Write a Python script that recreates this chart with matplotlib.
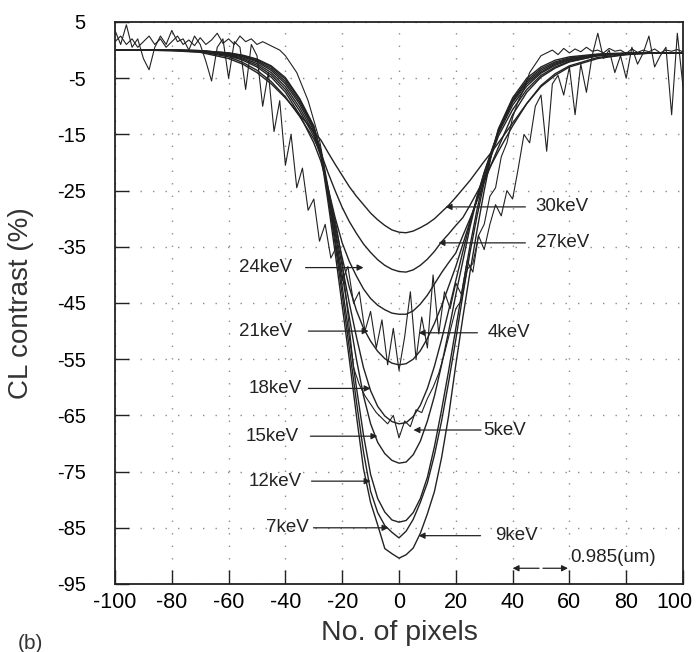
import matplotlib
matplotlib.use("Agg")
import matplotlib.pyplot as plt
from matplotlib.transforms import ScaledTranslation

plt.rcParams['font.family'] = ['Liberation Sans', 'DejaVu Sans']
plt.rcParams['axes.unicode_minus'] = False

# posiciones (pixeles) donde se leyeron las curvas suaves
x_smooth = [-100, -90, -80, -70, -60, -55, -50, -45, -40, -35, -30,
            -27.5, -25, -22.5, -20, -17.5, -15, -12.5, -10, -7.5, -5, -2.5,
            0, 2.5, 5, 7.5, 10, 12.5, 15, 17.5, 20, 22.5, 25, 27.5, 30, 32.5,
            35, 40, 45, 50, 55, 60, 70, 80, 90, 100]

cl_30kev = [0, 0, -0.1, -0.4, -1.5, -2.5, -4, -6, -8.5, -11.5, -14.5,
            -16, -18.2, -20.3, -22.3, -24.3, -26, -27.5, -29, -30.2, -31.2, -32,
            -32.4, -32.5, -32.2, -31.6, -30.9, -30, -28.8, -27.6, -26.2, -24.7, -23.2, -21.5, -19.8, -18.2,
            -16.5, -13, -9.5, -6.5, -4.5, -3, -1.5, -0.8, -0.5, -0.5]
cl_27kev = [0, 0, -0.1, -0.3, -1.2, -2.2, -3.6, -5.6, -8.3, -11.8, -15.8,
            -18.3, -21.8, -25, -28, -30.5, -32.6, -34.5, -36, -37.3, -38.3, -39,
            -39.4, -39.5, -39.1, -38.3, -37.2, -35.8, -34.1, -32.7, -31.2, -29.8, -27.6, -25.3, -22.9, -20.4,
            -18, -13.5, -9.5, -6.3, -4.2, -2.8, -1.3, -0.8, -0.5, -0.5]
cl_24kev = [0, 0, 0, -0.2, -1, -1.8, -3, -4.8, -7.5, -11.5, -16.5,
            -19.8, -24.5, -29.8, -34.3, -37.6, -40.2, -42.5, -44.2, -45.4, -46.2, -46.8,
            -47, -47, -46.4, -45.2, -43.6, -41.6, -39.6, -37.8, -36.1, -33, -30, -26.8, -23.5, -20.3,
            -17.3, -11.5, -7.5, -4.8, -3.2, -2.1, -1, -0.6, -0.5, -0.5]
cl_21kev = [0, 0, 0, -0.2, -0.9, -1.6, -2.7, -4.4, -7, -10.8, -15.3,
            -19, -25, -31, -37, -42.2, -46.3, -49.5, -51.8, -53.6, -54.9, -55.7,
            -56, -55.8, -55, -53.5, -51.3, -48.6, -45.5, -42, -38.5, -34.5, -30.5, -26.5, -22.5, -18.8,
            -15.3, -10.6, -7, -4.5, -3, -2, -1, -0.6, -0.5, -0.5]
cl_18kev = [0, 0, 0, -0.2, -0.8, -1.4, -2.4, -4, -6.5, -10.2, -14.8,
            -18.5, -25, -31.8, -38.5, -45, -51, -56.5, -60.6, -63.4, -65.1, -66.1,
            -66.5, -66.3, -65.2, -63.2, -60.2, -56.2, -51.5, -46.3, -41, -35.8, -30.8, -26, -21.8, -18.2,
            -14.8, -9.8, -6.4, -4.1, -2.7, -1.8, -0.9, -0.6, -0.5, -0.5]
cl_15kev = [0, 0, 0, -0.1, -0.7, -1.2, -2.1, -3.6, -6, -9.6, -14.3,
            -18, -25, -32.5, -40, -47.5, -55, -61.5, -66.5, -69.8, -71.8, -73,
            -73.5, -73.3, -72, -69.6, -66, -61.5, -56, -50, -43.5, -37.5, -31.5, -26.3, -21.8, -18,
            -14.5, -9.3, -6, -3.9, -2.5, -1.7, -0.9, -0.6, -0.5, -0.5]
cl_12kev = [0, 0, 0, -0.1, -0.6, -1.1, -1.9, -3.3, -5.6, -9.2, -13.9,
            -18, -25.5, -33.5, -42, -51, -60, -68.5, -75.5, -79.8, -82.2, -83.6,
            -84, -83.7, -82.3, -79.8, -76, -70.5, -64, -57, -49.5, -42, -34.8, -28.3, -22.8, -18.3,
            -14.5, -9, -5.7, -3.6, -2.3, -1.5, -0.8, -0.6, -0.5, -0.5]
cl_7kev = [0, 0, 0, -0.1, -0.5, -1, -1.7, -3, -5.2, -8.8, -13.6,
           -18, -26, -34.5, -43.5, -53, -62.5, -71.5, -78.5, -82.3, -84.6, -85.8,
           -86.8, -85.6, -83.5, -80.5, -77, -72, -66, -59, -51.5, -43.5, -36, -29.5, -23.5, -18.5,
           -14.2, -8.8, -5.4, -3.3, -2.1, -1.4, -0.8, -0.6, -0.5, -0.5]
cl_9kev = [0, 0, 0, -0.1, -0.5, -0.9, -1.6, -2.8, -4.9, -8.6, -13.5,
           -18.5, -27, -36, -45.5, -55, -65, -74.5, -80.5, -84.5, -88.7, -89.6,
           -90.4, -89.8, -88.6, -86, -82.5, -78.5, -72.5, -65, -56, -47.5, -39.5, -32, -25, -18.7,
           -14, -8.5, -5, -3, -1.8, -1.2, -0.7, -0.5, -0.5, -0.5]

# curvas con ruido (4keV y 5keV), leidas cada 2 pixeles
x_noisy = list(range(-100, 101, 2))
cl_4kev = [3.5, 1.0, 4.5, 0.5, 2.0, -1.5, -3.5, 0.5, 2.5, 1.0,
           3.5, 1.5, 2.0, 0.0, 2.5, 1.0, -2.0, -5.5, 0.5, 2.0,
           -5.0, 1.5, 0.5, -7.0, 1.0, -1.0, -10.0, -4.0, -14.5, -9.0,
           -20.5, -15.0, -24.5, -21.0, -28.5, -26.5, -34.0, -31.0, -37.0, -35.0,
           -41.0, -38.5, -45.0, -43.0, -50.0, -46.5, -53.0, -48.0, -56.0, -49.5,
           -57.0, -51.0, -43.0, -55.0, -47.5, -53.0, -40.0, -50.5, -43.0, -46.0,
           -41.5, -43.5, -37.5, -39.5, -33.0, -35.5, -31.0, -27.5, -29.5, -25.0,
           -26.5, -21.0, -15.0, -16.5, -10.0, -8.0, -18.0, -6.0, -4.5, -8.0,
           -3.0, -11.5, -2.5, -7.5, -1.0, 3.0, -1.5, 0.0, -4.0, -1.0,
           -5.0, 0.5, -2.5, -0.5, 2.5, -3.0, -1.0, 0.5, -11.5, 3.0,
           -6.5]
cl_5kev = [1.5, 2.5, 1.0, 2.0, 0.5, 1.5, 2.5, 1.0, 2.0, 0.5,
           1.5, 2.5, 1.0, 1.8, 0.8, 2.2, 1.0, 1.8, 3.0, 1.2,
           2.0, 1.0, 2.5, 1.5, 2.0, 1.0, 1.5, 1.0, 0.5, 0.0,
           -1.0, -2.5, -4.0, -6.5, -9.0, -12.5, -16.0, -21.5, -27.0, -31.5,
           -37.5, -47.0, -56.5, -59.5, -61.5, -63.0, -64.5, -65.5, -66.5, -65.0,
           -69.0, -66.0, -67.0, -64.0, -64.5, -62.0, -60.0, -57.5, -54.0, -50.0,
           -46.0, -44.5, -39.0, -38.0, -33.0, -31.0, -26.0, -24.5, -19.0, -16.5,
           -12.0, -9.0, -7.0, -4.0, -2.5, -1.0, -0.5, 0.0, -0.8, 0.3,
           -0.5, 0.2, -0.3, 0.5, -0.2, 0.0, -0.5, 0.3, -0.2, 0.0,
           -0.6, 0.2, -0.4, 0.0, -0.3, 0.2, -0.5, 0.0, -0.2, 0.1,
           -0.3]

x_ticks = [-100, -80, -60, -40, -20, 0, 20, 40, 60, 80, 100]
y_ticks = [5, -5, -15, -25, -35, -45, -55, -65, -75, -85, -95]

# etiquetas: (texto, x texto, y, inicio de la flecha, punta de la flecha)
etiquetas = [
    ('30keV', 48.1, -27.9, 44.5, 16.4),
    ('27keV', 48.1, -34.3, 44.5, 13.9),
    ('24keV', -56.5, -38.7, -32.9, -12.5),
    ('21keV', -56.5, -50.0, -31.9, -10.7),
    ('4keV', 31.2, -50.3, 27.6, 6.9),
    ('18keV', -53.0, -60.2, -31.9, -10.0),
    ('5keV', 29.8, -67.6, 28.9, 5.1),
    ('15keV', -54.0, -68.7, -31.2, -7.6),
    ('12keV', -53.0, -76.7, -30.8, -10.0),
    ('7keV', -47.0, -85.0, -30.1, -3.7),
    ('9keV', 34.0, -86.4, 28.7, 6.9),
]

ink = '#222222'

fig = plt.figure(figsize=(6.96, 6.52), dpi=100)
ax = fig.add_axes([115 / 696, 1 - 584 / 652, 568 / 696, 562 / 652])

for y in [cl_30kev, cl_27kev, cl_24kev, cl_21kev, cl_18kev,
          cl_15kev, cl_12kev, cl_7kev, cl_9kev]:
    ax.plot(x_smooth, y, color=ink, lw=1.0)
for y in [cl_4kev, cl_5kev]:
    ax.plot(x_noisy, y, color=ink, lw=0.8)

flecha = dict(arrowstyle='-|>', color=ink, lw=0.9, mutation_scale=9,
              shrinkA=0, shrinkB=0)
for texto, xt, yt, x0, x1 in etiquetas:
    ax.annotate('', xy=(x1, yt), xytext=(x0, yt), arrowprops=flecha)
    ax.text(xt, yt, texto, ha='left', va='center', fontsize=13.5, color=ink)

# escala 0.985 um
ax.annotate('', xy=(40, -92.2), xytext=(49.3, -92.2), arrowprops=flecha)
ax.annotate('', xy=(59.5, -92.2), xytext=(50.7, -92.2), arrowprops=flecha)
ax.text(60.4, -90.2, '0.985(um)', ha='left', va='center', fontsize=13.5, color=ink)

ax.set_xlim(-100, 100)
ax.set_ylim(-95, 5)
ax.set_xticks(x_ticks)
ax.set_yticks(y_ticks)
ax.tick_params(axis='both', direction='in', length=10, width=1.0, color=ink,
               top=False, right=False)
ax.tick_params(axis='x', labelsize=15.5, pad=6)
ax.tick_params(axis='y', labelsize=14.5, pad=21)
ax.grid(True, linestyle=(0, (1, 8)), color='0.55', lw=1.0)
for s in ax.spines.values():
    s.set_color(ink)
    s.set_linewidth(1.3)

# el "100" del extremo queda algo a la izquierda, como en el original
ultima = ax.get_xticklabels()[-1]
ultima.set_transform(ultima.get_transform() + ScaledTranslation(-9 / 100, 0, fig.dpi_scale_trans))

ax.set_xlabel('No. of pixels', fontsize=20.5, color='#333333')
ax.set_ylabel('CL contrast (%)', fontsize=20, color='#333333')
ax.xaxis.set_label_coords(0.5, -0.064)
ax.yaxis.set_label_coords(-0.143, 0.5)

fig.text(18 / 696, 1 - 634 / 652, '(b)', fontsize=15, color='#333333', va='top')

fig.savefig('out.png', dpi=100)
